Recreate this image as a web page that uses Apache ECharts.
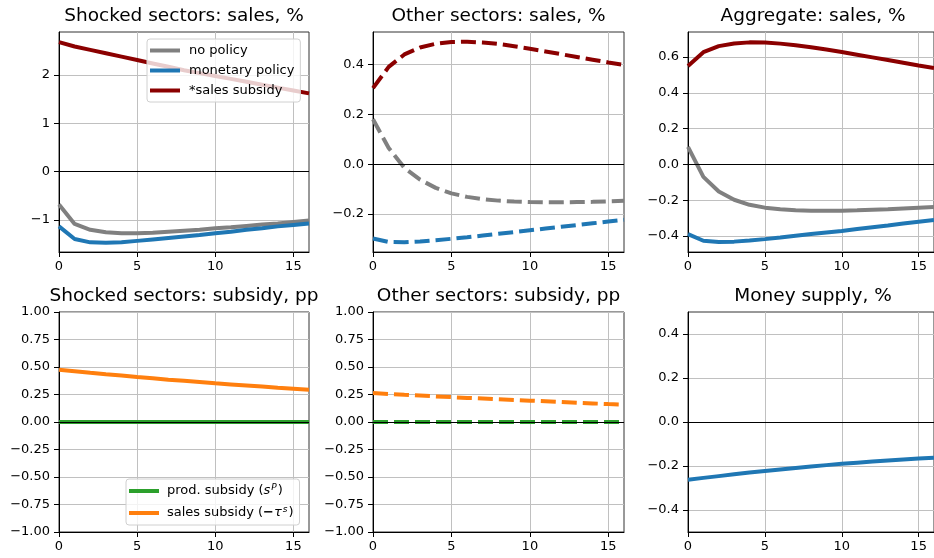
<!DOCTYPE html>
<html>
<head>
<meta charset="utf-8">
<script src="https://cdn.jsdelivr.net/npm/echarts@6/dist/echarts.min.js"></script>
<style>
html, body {margin: 0; padding: 0; background: #fff;}
#main {width: 934px; height: 558px;}
</style>
</head>
<body>
<div id="main"></div>
<script>
var t = [0, 1, 2, 3, 4, 5, 6, 7, 8, 9, 10, 11, 12, 13, 14, 15, 16];
var xTicks = [0, 5, 10, 15];

// Shocked sectors: sales, %
var shockNoPolicy = [-0.68, -1.08, -1.20, -1.25, -1.27, -1.27, -1.26, -1.24, -1.22, -1.20, -1.17, -1.15, -1.12, -1.09, -1.07, -1.04, -1.01];
var shockMonetary = [-1.13, -1.39, -1.46, -1.47, -1.46, -1.43, -1.40, -1.37, -1.34, -1.31, -1.27, -1.24, -1.20, -1.17, -1.13, -1.10, -1.07];
var shockSubsidy = [2.68, 2.59, 2.52, 2.45, 2.38, 2.31, 2.24, 2.17, 2.10, 2.04, 1.98, 1.92, 1.86, 1.80, 1.74, 1.68, 1.62];

// Other sectors: sales, %
var otherNoPolicy = [0.18, 0.065, -0.015, -0.062, -0.095, -0.117, -0.131, -0.140, -0.146, -0.150, -0.152, -0.153, -0.153, -0.152, -0.151, -0.149, -0.147];
var otherMonetary = [-0.298, -0.312, -0.313, -0.310, -0.305, -0.299, -0.293, -0.286, -0.279, -0.272, -0.265, -0.258, -0.251, -0.244, -0.237, -0.230, -0.223];
var otherSubsidy = [0.305, 0.39, 0.44, 0.468, 0.483, 0.49, 0.491, 0.488, 0.482, 0.473, 0.463, 0.452, 0.441, 0.430, 0.419, 0.408, 0.398];

// Aggregate: sales, %
var aggNoPolicy = [0.098, -0.07, -0.152, -0.198, -0.226, -0.242, -0.251, -0.256, -0.259, -0.260, -0.259, -0.257, -0.254, -0.251, -0.247, -0.243, -0.239];
var aggMonetary = [-0.39, -0.427, -0.434, -0.432, -0.426, -0.418, -0.409, -0.399, -0.390, -0.381, -0.372, -0.362, -0.352, -0.342, -0.331, -0.321, -0.311];
var aggSubsidy = [0.55, 0.627, 0.661, 0.676, 0.682, 0.681, 0.675, 0.666, 0.655, 0.642, 0.628, 0.613, 0.598, 0.583, 0.568, 0.553, 0.539];

// subsidies, pp
var shockProdSub = [0, 0, 0, 0, 0, 0, 0, 0, 0, 0, 0, 0, 0, 0, 0, 0, 0];
var shockSalesSub = [0.475, 0.461, 0.447, 0.434, 0.422, 0.409, 0.397, 0.385, 0.374, 0.363, 0.352, 0.342, 0.332, 0.322, 0.312, 0.303, 0.294];
var otherProdSub = [0, 0, 0, 0, 0, 0, 0, 0, 0, 0, 0, 0, 0, 0, 0, 0, 0];
var otherSalesSub = [0.263, 0.255, 0.247, 0.240, 0.233, 0.226, 0.219, 0.213, 0.206, 0.200, 0.194, 0.188, 0.182, 0.175, 0.169, 0.163, 0.158];

// Money supply, %
var moneySupply = [-0.262, -0.254, -0.246, -0.238, -0.230, -0.223, -0.216, -0.209, -0.202, -0.196, -0.190, -0.185, -0.180, -0.175, -0.170, -0.166, -0.162];

// y ticks per panel
var yTicks1 = [-1, 0, 1, 2];
var yTicks2 = [-0.2, 0, 0.2, 0.4];
var yTicks3 = [-0.4, -0.2, 0, 0.2, 0.4, 0.6];
var yTicksSub = [-1, -0.75, -0.5, -0.25, 0, 0.25, 0.5, 0.75, 1];
var yTicks6 = [-0.4, -0.2, 0, 0.2, 0.4];

var titles = ['Shocked sectors: sales, %', 'Other sectors: sales, %', 'Aggregate: sales, %',
    'Shocked sectors: subsidy, pp', 'Other sectors: subsidy, pp', 'Money supply, %'];

var myChart = echarts.init(document.getElementById('main'), null, {renderer: 'canvas'});

var GRAY = '#808080', BLUE = '#1f77b4', RED = '#8b0000', GREEN = '#2ca02c', ORANGE = '#ff7f0e';

function pairs(arr) {
    return t.map(function (x, i) { return [x, arr[i]]; });
}

function line(name, arr, color, idx, dashed) {
    return {
        name: name,
        type: 'line',
        xAxisIndex: idx,
        yAxisIndex: idx,
        data: pairs(arr),
        color: color,
        symbol: 'none',
        showSymbol: false,
        z: 2,
        lineStyle: {color: color, width: 4, type: dashed ? [15, 6] : 'solid', cap: 'butt'},
        silent: true
    };
}

// black horizontal line at 0
function zeroLine(idx) {
    return {
        type: 'line',
        xAxisIndex: idx,
        yAxisIndex: idx,
        data: [],
        z: 3,
        silent: true,
        markLine: {
            silent: true,
            symbol: 'none',
            label: {show: false},
            lineStyle: {color: '#000', width: 1, type: 'solid'},
            emphasis: {disabled: true},
            data: [{yAxis: 0}]
        }
    };
}

function fmt(dec) {
    return function (v) {
        return Number(v).toFixed(dec).replace('-', '\u2212');
    };
}

var grids = [
    {left: 59, top: 32, width: 250, height: 220},
    {left: 373, top: 32, width: 251, height: 220},
    {left: 688, top: 32, width: 250, height: 220},
    {left: 59, top: 312, width: 250, height: 220},
    {left: 373, top: 312, width: 251, height: 220},
    {left: 688, top: 312, width: 250, height: 220}
];
grids.forEach(function (g) {
    g.show = true;
    g.borderColor = '#333';
    g.borderWidth = 1;
});

var yRanges = [[-1.66, 2.89], [-0.352, 0.53], [-0.49, 0.74], [-1, 1], [-1, 1], [-0.5, 0.5]];
var yTickList = [yTicks1, yTicks2, yTicks3, yTicksSub, yTicksSub, yTicks6];
var yDec = [0, 1, 1, 2, 2, 1];

var xAxes = grids.map(function (g, i) {
    return {
        type: 'value', gridIndex: i, min: 0, max: 16,
        axisLine: {show: true, onZero: false, lineStyle: {color: '#000', width: 1}},
        axisTick: {show: true, length: 5, customValues: xTicks, lineStyle: {color: '#000'}},
        axisLabel: {customValues: xTicks, margin: 8, color: '#000', fontSize: 13, formatter: fmt(0)},
        splitLine: {show: true, lineStyle: {color: '#c0c0c0', width: 1}}
    };
});

var yAxes = grids.map(function (g, i) {
    return {
        type: 'value', gridIndex: i, min: yRanges[i][0], max: yRanges[i][1],
        axisLine: {show: true, onZero: false, lineStyle: {color: '#000', width: 1}},
        axisTick: {show: true, length: 5, customValues: yTickList[i], lineStyle: {color: '#000'}},
        axisLabel: {customValues: yTickList[i], margin: 9, color: '#000', fontSize: 13, formatter: fmt(yDec[i])},
        splitLine: {show: true, lineStyle: {color: '#c0c0c0', width: 1}}
    };
});

var titleCenters = [184, 498.5, 813, 184, 498.5, 813];
var option = {
    animation: false,
    backgroundColor: '#fff',
    textStyle: {fontFamily: 'DejaVu Sans'},
    title: titles.map(function (txt, i) {
        return {
            text: txt,
            left: titleCenters[i],
            top: i < 3 ? 7 : 287,
            textAlign: 'center',
            padding: 0,
            textStyle: {fontSize: 18.5, fontWeight: 'normal', color: '#000', fontFamily: 'DejaVu Sans'}
        };
    }),
    legend: [{
        data: ['no policy', 'monetary policy', '*sales subsidy'],
        orient: 'vertical',
        left: 147,
        top: 39,
        padding: [4, 6, 4, 3],
        itemWidth: 30,
        itemHeight: 4,
        itemGap: 5,
        icon: 'rect',
        backgroundColor: 'rgba(255,255,255,0.8)',
        borderColor: '#d0d0d0',
        borderWidth: 1,
        borderRadius: 3,
        selectedMode: false,
        textStyle: {fontSize: 13, color: '#000', lineHeight: 15, padding: [0, 0, 0, 4]}
    }, {
        data: ['prod. subsidy', 'sales subsidy'],
        orient: 'vertical',
        left: 126,
        top: 479,
        padding: [4, 6, 4, 3],
        itemWidth: 30,
        itemHeight: 4,
        itemGap: 6,
        icon: 'rect',
        backgroundColor: 'rgba(255,255,255,0.8)',
        borderColor: '#d0d0d0',
        borderWidth: 1,
        borderRadius: 3,
        selectedMode: false,
        formatter: function (name) {
            if (name === 'prod. subsidy') {
                return 'prod. subsidy ({i|s}{sup|P})';
            }
            return 'sales subsidy ({b|\u2212}{i|\u03c4}{sup|s})';
        },
        textStyle: {
            fontSize: 13, color: '#000', lineHeight: 16, padding: [0, 0, 0, 3],
            rich: {
                i: {fontSize: 13, fontStyle: 'italic', color: '#000', lineHeight: 16},
                b: {fontSize: 13, fontWeight: 'bold', color: '#000', lineHeight: 16},
                sup: {fontSize: 9, fontStyle: 'italic', color: '#000', lineHeight: 10, verticalAlign: 'top', padding: [0, 1, 0, 1]}
            }
        }
    }],
    grid: grids,
    xAxis: xAxes,
    yAxis: yAxes,
    series: [
        line('no policy', shockNoPolicy, GRAY, 0, false),
        line('monetary policy', shockMonetary, BLUE, 0, false),
        line('*sales subsidy', shockSubsidy, RED, 0, false),
        zeroLine(0),

        line('no policy', otherNoPolicy, GRAY, 1, true),
        line('monetary policy', otherMonetary, BLUE, 1, true),
        line('*sales subsidy', otherSubsidy, RED, 1, true),
        zeroLine(1),

        line('no policy', aggNoPolicy, GRAY, 2, false),
        line('monetary policy', aggMonetary, BLUE, 2, false),
        line('*sales subsidy', aggSubsidy, RED, 2, false),
        zeroLine(2),

        line('prod. subsidy', shockProdSub, GREEN, 3, false),
        line('sales subsidy', shockSalesSub, ORANGE, 3, false),
        zeroLine(3),

        line('prod. subsidy', otherProdSub, GREEN, 4, true),
        line('sales subsidy', otherSalesSub, ORANGE, 4, true),
        zeroLine(4),

        line('money supply', moneySupply, BLUE, 5, false),
        zeroLine(5)
    ]
};

myChart.setOption(option);
</script>
</body>
</html>
